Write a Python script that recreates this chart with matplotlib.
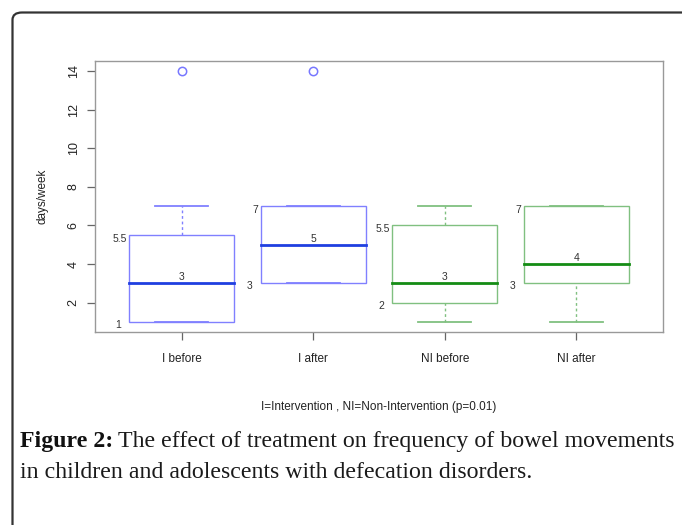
import matplotlib.pyplot as plt
from matplotlib.patches import FancyBboxPatch, Rectangle

# boxplot summaries
groups = ["I before", "I after", "NI before", "NI after"]
whisker_lo = [1, 3, 1, 1]
q1 = [1, 3, 2, 3]
median = [3, 5, 3, 4]
q3 = [5.5, 7, 6, 7]
whisker_hi = [7, 7, 7, 7]
outliers = [[14], [14], [], []]
q1_labels = ["1", "3", "2", "3"]
q3_labels = ["5.5", "7", "5.5", "7"]
median_labels = ["3", "5", "3", "4"]

edge_cols = ["#8080ff", "#8080ff", "#80c080", "#80c080"]
med_cols = ["#1f3fe0", "#1f3fe0", "#148c14", "#148c14"]

W, H = 682, 525
fig = plt.figure(figsize=(W / 100, H / 100), dpi=100)
plt.rcParams['font.family'] = ['Liberation Sans', 'DejaVu Sans']

# outer rounded frame, runs off the right and bottom edge
frame = FancyBboxPatch((12.5 / W, -0.1), 1.0, 1.1 - 12.5 / H,
                       boxstyle="round,pad=0,rounding_size=0.014",
                       transform=fig.transFigure, fill=False,
                       edgecolor="#333333", linewidth=1.6)
fig.patches.append(frame)

ax = fig.add_axes([95 / W, 1 - 332 / H, (663 - 95) / W, (332 - 61) / H])
ax.set_xlim(0.34, 4.66)
ax.set_ylim(0.48, 14.52)

bw = 0.8
for i in range(4):
    x = i + 1
    ec = edge_cols[i]
    ax.add_patch(Rectangle((x - bw / 2, q1[i]), bw, q3[i] - q1[i], fill=False,
                           edgecolor=ec, linewidth=1.0, zorder=2))
    # whiskers
    ax.plot([x, x], [whisker_lo[i], q1[i]], color=ec, lw=1.0, ls=(0, (2, 2)))
    ax.plot([x, x], [q3[i], whisker_hi[i]], color=ec, lw=1.0, ls=(0, (2, 2)))
    # staples
    for v in (whisker_lo[i], whisker_hi[i]):
        ax.plot([x - bw / 4, x + bw / 4], [v, v], color=ec, lw=1.3, zorder=3)
    ax.plot([x - bw / 2, x + bw / 2], [median[i], median[i]],
            color=med_cols[i], lw=2.0, zorder=4)
    for v in outliers[i]:
        ax.plot(x, v, marker="o", ms=6, mfc="none", mec="#7777ff", mew=1.1)
    # annotations
    ax.text(x - bw / 2 - 0.02, q3[i] - 0.2, q3_labels[i], ha="right",
            va="center", fontsize=7.5, color="#333333")
    ax.text(x - bw / 2 - 0.06, q1[i] - 0.15, q1_labels[i], ha="right",
            va="center", fontsize=7.5, color="#333333")
    ax.text(x, median[i] + 0.05, median_labels[i], ha="center",
            va="bottom", fontsize=7.5, color="#333333")

for s in ax.spines.values():
    s.set_color("#999999")
    s.set_linewidth(1.0)

ax.set_xticks(range(1, 5))
ax.set_xticklabels(groups, fontsize=8.5, color="#222222")
ax.set_yticks([2, 4, 6, 8, 10, 12, 14])
ax.set_yticklabels(["2", "4", "6", "8", "10", "12", "14"], rotation=90,
                   va="center", fontsize=9, color="#222222")
ax.tick_params(axis="both", color="#666666", length=6, width=0.9)
ax.tick_params(axis="x", pad=9)
ax.tick_params(axis="y", pad=5)
ax.set_ylabel("days/week", fontsize=8.5, color="#222222", labelpad=14)
ax.set_xlabel("I=Intervention , NI=Non-Intervention (p=0.01)", fontsize=8.5,
              color="#222222", labelpad=26)

cap_size = 17.2
t = fig.text(20 / W, 1 - 441 / H, "Figure 2:", fontsize=cap_size,
             fontweight="bold", family="Liberation Serif", color="#111111",
             va="center")
fig.canvas.draw()
bb = t.get_window_extent()
fig.text((bb.x1 + 5) / W, 1 - 441 / H,
         "The effect of treatment on frequency of bowel movements",
         fontsize=cap_size, family="Liberation Serif", color="#1a1a1a",
         va="center")
fig.text(20 / W, 1 - 473 / H,
         "in children and adolescents with defecation disorders.",
         fontsize=cap_size, family="Liberation Serif", color="#1a1a1a",
         va="center")

fig.savefig("out.png", dpi=100)
